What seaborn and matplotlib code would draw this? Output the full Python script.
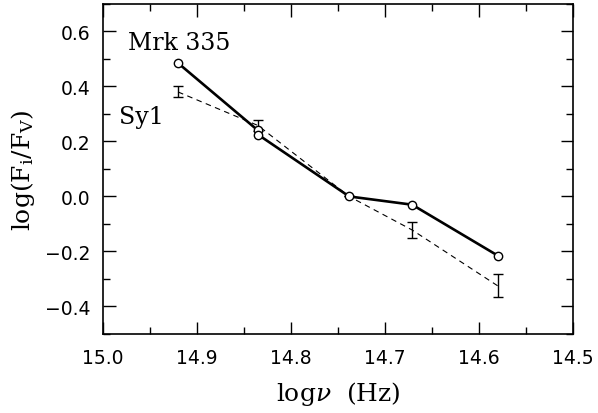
import numpy as np
import pandas as pd
import matplotlib
matplotlib.use("Agg")
import matplotlib.pyplot as plt
from matplotlib.ticker import MultipleLocator
import seaborn as sns

# modèle (trait plein, cercles)
model_lognu = [14.92, 14.835, 14.835, 14.738, 14.671, 14.58]
model_flux = [0.485, 0.24, 0.225, 0.0, -0.03, -0.215]

# moyenne Sy1 (tirets, barres d'erreur)
sy1_lognu = [14.92, 14.835, 14.738, 14.671, 14.58]
sy1_flux = [0.38, 0.258, 0.0, -0.122, -0.325]
sy1_err = [0.02, 0.02, 0.0, 0.03, 0.042]

xticks = [15.0, 14.9, 14.8, 14.7, 14.6, 14.5]
yticks = [-0.4, -0.2, 0.0, 0.2, 0.4, 0.6]

sns.set_style("ticks")
plt.rcParams["font.family"] = ["DejaVu Sans"]
plt.rcParams["mathtext.fontset"] = "dejavuserif"
plt.rcParams["text.color"] = "black"
plt.rcParams["axes.labelcolor"] = "black"

df_model = pd.DataFrame({"lognu": model_lognu, "flux": model_flux})
df_sy1 = pd.DataFrame({"lognu": sy1_lognu, "flux": sy1_flux, "err": sy1_err})

fig = plt.figure(figsize=(5.98, 4.14), dpi=100)
ax = fig.add_axes([0.172, 0.191, 0.786, 0.797])

sns.lineplot(data=df_sy1, x="lognu", y="flux", estimator=None, sort=False,
             color="black", lw=0.8, ls=(0, (5, 4)), ax=ax)
ax.errorbar(df_sy1["lognu"], df_sy1["flux"], yerr=df_sy1["err"], fmt="none",
            ecolor="black", elinewidth=1.0, capsize=3.5, capthick=1.0)
sns.lineplot(data=df_model, x="lognu", y="flux", estimator=None, sort=False,
             color="black", lw=1.9, marker="o", markersize=6,
             markerfacecolor="white", markeredgecolor="black", markeredgewidth=1.0, ax=ax)

ax.set_xlim(15.0, 14.5)
ax.set_ylim(-0.5, 0.7)
ax.set_xticks(xticks)
ax.set_yticks(yticks)
ax.set_xticklabels([f"{t:.1f}" for t in xticks])
ax.set_yticklabels([f"{t:.1f}".replace("-", "\u2212") for t in yticks])
ax.xaxis.set_minor_locator(MultipleLocator(0.05))
ax.yaxis.set_minor_locator(MultipleLocator(0.1))
ax.tick_params(which="both", direction="in", top=True, right=True, width=1.0,
               labelsize=13.5, colors="black")
ax.tick_params(axis="x", pad=10)
ax.tick_params(axis="y", pad=9)
ax.tick_params(which="major", length=9)
ax.tick_params(which="minor", length=5)
for s in ax.spines.values():
    s.set_linewidth(1.2)
    s.set_color("black")

ax.set_xlabel(r"log$\nu$  (Hz)", family="DejaVu Serif", fontsize=18, labelpad=9, color="black")
ax.set_ylabel(r"log(F$_{\rm i}$/F$_{\rm V}$)", family="DejaVu Serif", fontsize=18, labelpad=6, color="black")

ax.text(14.973, 0.537, "Mrk 335", family="DejaVu Serif", fontsize=17, color="black")
ax.text(14.983, 0.268, "Sy1", family="DejaVu Serif", fontsize=17, color="black")

fig.savefig("out.png", dpi=100)
